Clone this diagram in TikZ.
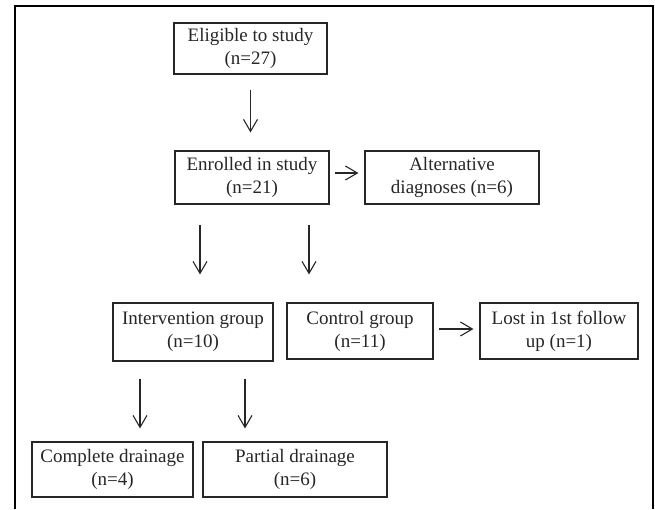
\documentclass[tikz,border=0pt]{standalone}
\usepackage{fontspec}
\setmainfont{Liberation Serif}
\usetikzlibrary{arrows.meta}
\definecolor{ink}{HTML}{262626}
\tikzset{
  box/.style={draw=ink, line width=1.1pt, inner sep=0pt, align=center, text=ink,
    font=\fontsize{19}{23}\selectfont},
  arr/.style={draw=ink, line width=1.1pt, -{Straight Barb[length=12pt,width=14pt,line width=1.1pt]}}
}
\begin{document}
\begin{tikzpicture}[x=1pt,y=-1pt]
\useasboundingbox (0,0) rectangle (655,509);
\draw[line width=2pt, black] (15,509) -- (15,6) -- (653,6) -- (653,509);

\node[box, minimum width=153pt, minimum height=51pt] (elig) at (250.5,48.5) {Eligible to study\\(n=27)};
\node[box, minimum width=154pt, minimum height=53pt] (enr) at (252,177.5) {Enrolled in study\\(n=21)};
\node[box, minimum width=174pt, minimum height=53pt] (alt) at (452,177.5) {Alternative\\diagnoses (n=6)};
\node[box, minimum width=160pt, minimum height=58pt] (int) at (193,332) {Intervention group\\(n=10)};
\node[box, minimum width=146pt, minimum height=56pt] (ctl) at (360,331) {Control group\\(n=11)};
\node[box, minimum width=158pt, minimum height=56pt] (lost) at (559,331) {Lost in 1st follow\\up (n=1)};
\node[box, minimum width=161pt, minimum height=55pt] (comp) at (112.5,469.5) {Complete drainage\\(n=4)};
\node[box, minimum width=184pt, minimum height=55pt] (part) at (295,469.5) {Partial drainage\\(n=6)};

\draw[arr, shorten <=15pt, shorten >=18pt] (elig.south) -- (elig.south |- enr.north);
\draw[arr, shorten <=5pt, shorten >=6pt] ([yshift=4.5pt]enr.east) -- ([yshift=4.5pt]enr.east -| alt.west);
\draw[arr, shorten <=20pt, shorten >=28pt] ([xshift=-52pt]enr.south) -- ([xshift=-52pt]enr.south |- int.north);
\draw[arr, shorten <=20pt, shorten >=28pt] ([xshift=57pt]enr.south) -- ([xshift=57pt]enr.south |- ctl.north);
\draw[arr, shorten <=5pt, shorten >=6pt] ([yshift=2pt]ctl.east) -- ([yshift=2pt]ctl.east -| lost.west);
\draw[arr, shorten <=17pt, shorten >=13pt] ([xshift=-53pt]int.south) -- ([xshift=-53pt]int.south |- comp.north);
\draw[arr, shorten <=17pt, shorten >=13pt] ([xshift=52pt]int.south) -- ([xshift=52pt]int.south |- part.north);
\end{tikzpicture}
\end{document}
